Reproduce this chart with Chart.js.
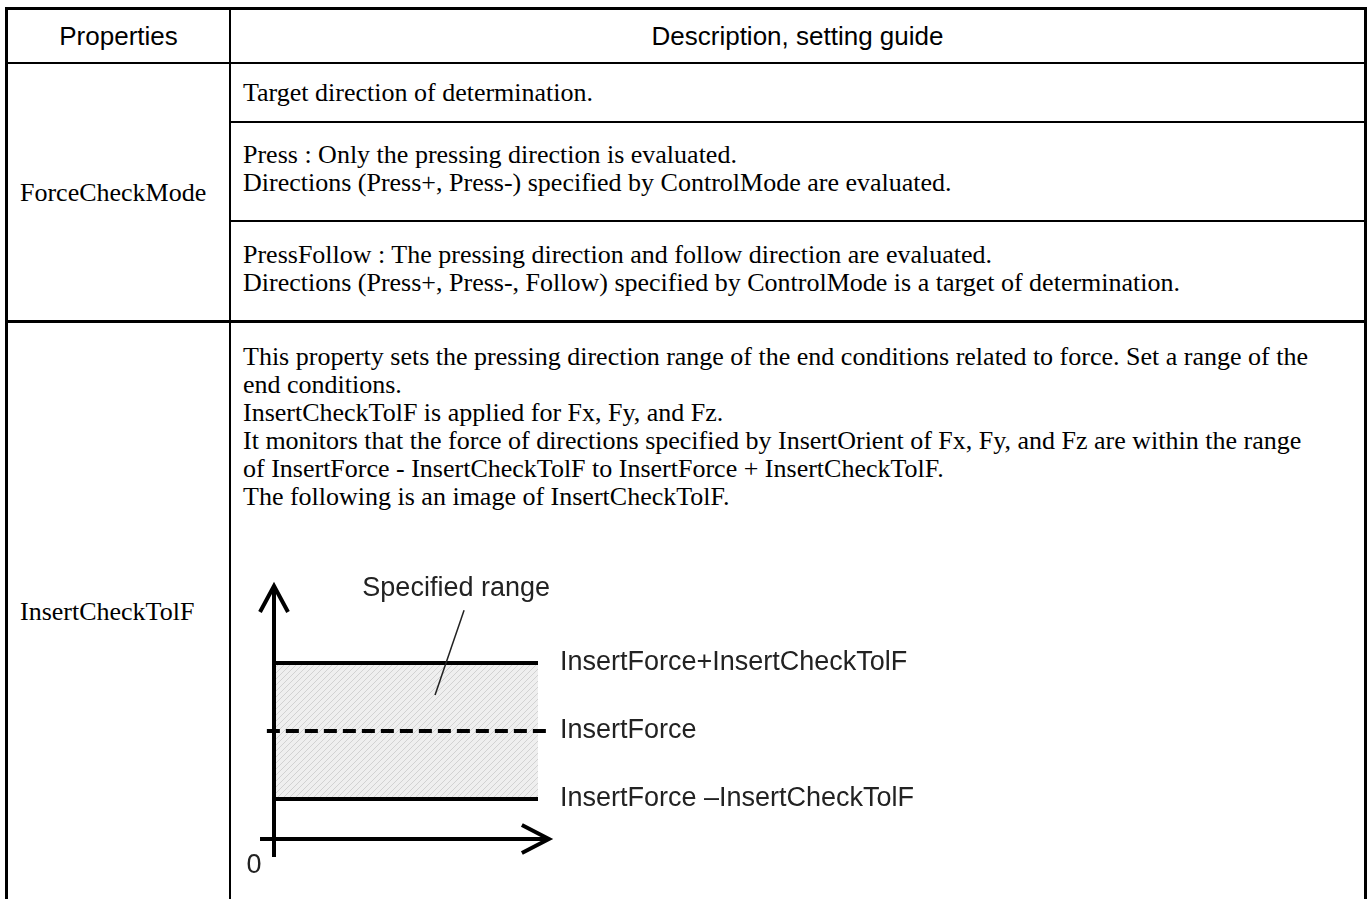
<!DOCTYPE html>
<html>
<head>
<meta charset="utf-8">
<script src="https://cdn.jsdelivr.net/npm/chart.js@4.4.1/dist/chart.umd.min.js"></script>
<style>
  body { margin: 0; background: #fff; width: 1368px; height: 899px; overflow: hidden; position: relative; }
  .ln { position: absolute; background: #000; }
  .tx { position: absolute; white-space: nowrap; line-height: 28px; color: #000; }
  .serif { font-family: "Liberation Serif", "Times New Roman", serif; font-size: 26px; }
  .sans { font-family: "Liberation Sans", Arial, sans-serif; font-size: 26px; }
  #diagram { position: absolute; left: 240px; top: 565px; }
</style>
</head>
<body>

<!-- table lines -->
<div class="ln" style="left:5px;top:7px;width:1362px;height:3px"></div>
<div class="ln" style="left:5px;top:62px;width:1362px;height:2px"></div>
<div class="ln" style="left:229px;top:121px;width:1138px;height:2px"></div>
<div class="ln" style="left:229px;top:220px;width:1138px;height:2px"></div>
<div class="ln" style="left:5px;top:320px;width:1362px;height:3px"></div>
<div class="ln" style="left:5px;top:7px;width:3px;height:892px"></div>
<div class="ln" style="left:229px;top:7px;width:2px;height:892px"></div>
<div class="ln" style="left:1364px;top:7px;width:3px;height:892px"></div>

<!-- header -->
<div class="tx sans" style="left:8px;width:221px;text-align:center;top:22px">Properties</div>
<div class="tx sans" style="left:231px;width:1133px;text-align:center;top:22px">Description, setting guide</div>

<!-- first column -->
<div class="tx serif" style="left:20px;top:179px">ForceCheckMode</div>
<div class="tx serif" style="left:20px;top:598px">InsertCheckTolF</div>

<!-- second column -->
<div class="tx serif" style="left:243px;top:79px">Target direction of determination.</div>
<div class="tx serif" style="left:243px;top:141px">Press : Only the pressing direction is evaluated.<br>Directions (Press+, Press-) specified by ControlMode are evaluated.</div>
<div class="tx serif" style="left:243px;top:241px">PressFollow : The pressing direction and follow direction are evaluated.<br>Directions (Press+, Press-, Follow) specified by ControlMode is a target of determination.</div>
<div class="tx serif" style="left:243px;top:343px">This property sets the pressing direction range of the end conditions related to force. Set a range of the<br>end conditions.<br>InsertCheckTolF is applied for Fx, Fy, and Fz.<br>It monitors that the force of directions specified by InsertOrient of Fx, Fy, and Fz are within the range<br>of InsertForce - InsertCheckTolF to InsertForce + InsertCheckTolF.<br>The following is an image of InsertCheckTolF.</div>

<canvas id="diagram" width="720" height="310"></canvas>

<script>
// gia tri cua so do (don vi tuy y)
var xStart = 0;
var xEnd = 10;
var upperLevel = 4.4;   // InsertForce + InsertCheckTolF
var centerLevel = 2.7;  // InsertForce
var lowerLevel = 1;     // InsertForce - InsertCheckTolF
var levelLabels = ["InsertForce+InsertCheckTolF", "InsertForce", "InsertForce \u2013InsertCheckTolF"];
var rangeLabel = "Specified range";
var originLabel = "0";
var xAxisTip = 10.45;
var yAxisTip = 6.35;

// mau gach cheo cho vung khoang cho phep
function makeHatch() {
  var c = document.createElement("canvas");
  c.width = 6;
  c.height = 6;
  var g = c.getContext("2d");
  g.fillStyle = "#efefef";
  g.fillRect(0, 0, 6, 6);
  g.strokeStyle = "#d2d2d2";
  g.lineWidth = 1;
  g.beginPath();
  g.moveTo(0, 6);
  g.lineTo(6, 0);
  g.moveTo(-3, 3);
  g.lineTo(3, -3);
  g.moveTo(3, 9);
  g.lineTo(9, 3);
  g.stroke();
  return g.createPattern(c, "repeat");
}

// ve truc toa do co mui ten va cac nhan chu
var diagramPlugin = {
  id: "diagramPlugin",
  afterDatasetsDraw: function (chart) {
    var ctx = chart.ctx;
    var xs = chart.scales.x;
    var ys = chart.scales.y;
    var x0 = xs.getPixelForValue(0);
    var y0 = ys.getPixelForValue(0);
    var xTip = xs.getPixelForValue(xAxisTip);
    var yTip = ys.getPixelForValue(yAxisTip);

    ctx.save();
    ctx.strokeStyle = "#000";
    ctx.lineWidth = 4;
    ctx.lineCap = "butt";
    // truc y
    ctx.beginPath();
    ctx.moveTo(x0, ys.getPixelForValue(-0.45));
    ctx.lineTo(x0, yTip + 2);
    ctx.stroke();
    // truc x
    ctx.beginPath();
    ctx.moveTo(xs.getPixelForValue(-0.53), y0);
    ctx.lineTo(xTip - 2, y0);
    ctx.stroke();
    // mui ten
    ctx.lineWidth = 4;
    ctx.lineJoin = "miter";
    ctx.beginPath();
    ctx.moveTo(x0 - 14, yTip + 27);
    ctx.lineTo(x0, yTip + 1);
    ctx.lineTo(x0 + 14, yTip + 27);
    ctx.stroke();
    ctx.beginPath();
    ctx.moveTo(xTip - 28, y0 - 14);
    ctx.lineTo(xTip - 1, y0);
    ctx.lineTo(xTip - 28, y0 + 14);
    ctx.stroke();

    // duong chi dan "Specified range"
    ctx.lineWidth = 1.5;
    ctx.strokeStyle = "#222";
    ctx.beginPath();
    ctx.moveTo(xs.getPixelForValue(7.2), ys.getPixelForValue(5.72));
    ctx.lineTo(xs.getPixelForValue(6.1), ys.getPixelForValue(3.6));
    ctx.stroke();

    // nhan chu
    ctx.fillStyle = "#222";
    ctx.font = "27px 'Liberation Sans', Arial, sans-serif";
    ctx.textBaseline = "middle";
    ctx.textAlign = "left";
    var lx = xs.getPixelForValue(xAxisTip) + 10;
    ctx.fillText(levelLabels[0], lx, ys.getPixelForValue(upperLevel));
    ctx.fillText(levelLabels[1], lx, ys.getPixelForValue(centerLevel));
    ctx.fillText(levelLabels[2], lx, ys.getPixelForValue(lowerLevel));
    ctx.textAlign = "center";
    ctx.fillText(rangeLabel, xs.getPixelForValue(6.9), ys.getPixelForValue(6.25));
    ctx.fillText(originLabel, x0 - 20, y0 + 27);
    ctx.restore();
  }
};

var ctx = document.getElementById("diagram").getContext("2d");
var diagramChart = new Chart(ctx, {
  type: "line",
  data: {
    datasets: [
      {
        label: levelLabels[0],
        data: [{ x: xStart, y: upperLevel }, { x: xEnd, y: upperLevel }],
        borderColor: "#000",
        borderWidth: 4,
        pointRadius: 0,
        fill: { target: 2 },
        backgroundColor: makeHatch(),
      },
      {
        label: levelLabels[1],
        data: [{ x: -0.27, y: centerLevel }, { x: xAxisTip - 0.05, y: centerLevel }],
        borderColor: "#000",
        borderWidth: 4,
        borderDash: [13, 6],
        pointRadius: 0,
        fill: false,
      },
      {
        label: levelLabels[2],
        data: [{ x: xStart, y: lowerLevel }, { x: xEnd, y: lowerLevel }],
        borderColor: "#000",
        borderWidth: 4,
        pointRadius: 0,
        fill: false,
      },
    ],
  },
  options: {
    responsive: false,
    animation: false,
    clip: false,
    layout: { padding: { left: 34, right: 422, top: 98, bottom: 36 } },
    scales: {
      x: { type: "linear", min: xStart, max: xEnd, display: false },
      y: { type: "linear", min: 0, max: upperLevel, display: false },
    },
    plugins: {
      legend: { display: false },
      tooltip: { enabled: false },
      filler: { drawTime: "beforeDatasetsDraw" },
    },
  },
  plugins: [diagramPlugin],
});
</script>
</body>
</html>
